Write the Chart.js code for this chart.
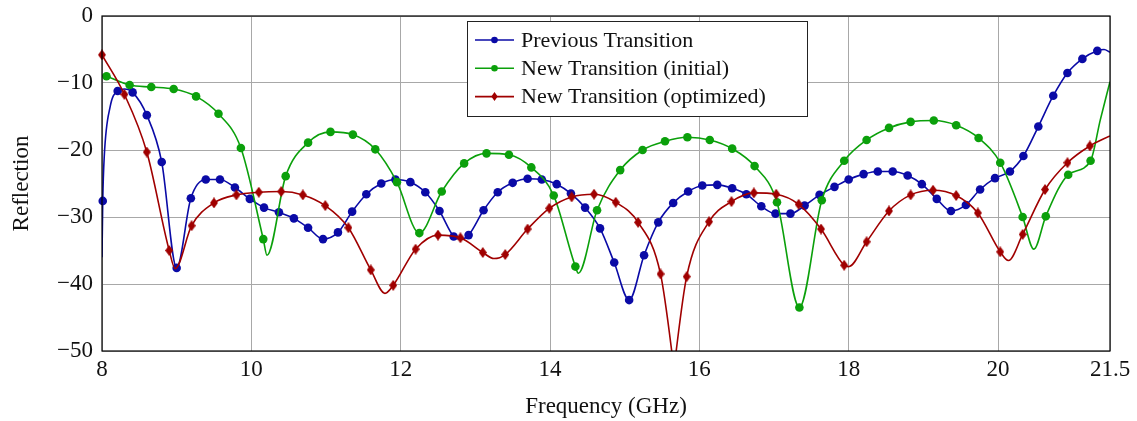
<!DOCTYPE html>
<html>
<head>
<meta charset="utf-8">
<script src="https://cdn.jsdelivr.net/npm/chart.js@4.4.1/dist/chart.umd.min.js"></script>
<style>
  body { margin: 0; background: #fff; }
  canvas { display: block; }
</style>
</head>
<body>
<canvas id="reflChart" width="1137" height="421"></canvas>
<script>
// tick labels
const xTicks = [8, 10, 12, 14, 16, 18, 20, 21.5];

// Previous Transition (marker points)
const prevFreq = [8.01, 8.21, 8.41, 8.60, 8.80, 9.00, 9.19, 9.39, 9.58, 9.78, 9.98, 10.17, 10.37, 10.57, 10.76,
  10.96, 11.16, 11.35, 11.54, 11.74, 11.93, 12.13, 12.33, 12.52, 12.71, 12.91, 13.11, 13.30, 13.50, 13.70,
  13.89, 14.09, 14.28, 14.47, 14.67, 14.86, 15.06, 15.26, 15.45, 15.65, 15.85, 16.04, 16.24, 16.44, 16.63,
  16.83, 17.02, 17.22, 17.41, 17.61, 17.81, 18.00, 18.20, 18.39, 18.59, 18.79, 18.98, 19.18, 19.37, 19.57,
  19.76, 19.96, 20.16, 20.34, 20.54, 20.74, 20.93, 21.13, 21.33];
const prevRefl = [-27.6, -11.2, -11.4, -14.8, -21.8, -37.6, -27.2, -24.4, -24.4, -25.6, -27.3, -28.6, -29.3, -30.2, -31.6,
  -33.3, -32.3, -29.2, -26.6, -25.0, -24.4, -24.8, -26.3, -29.1, -32.9, -32.7, -29.0, -26.3, -24.9, -24.3,
  -24.4, -25.1, -26.5, -28.6, -31.7, -36.8, -42.4, -35.7, -30.8, -27.9, -26.2, -25.3, -25.2, -25.7, -26.6,
  -28.4, -29.5, -29.5, -28.3, -26.7, -25.5, -24.4, -23.6, -23.2, -23.2, -23.8, -25.1, -27.3, -29.1, -28.2,
  -25.9, -24.2, -23.2, -20.9, -16.5, -11.9, -8.5, -6.4, -5.2];
// extra curve points (no marker)
const prevLineFreq = [8.0, 8.03, 8.11, 8.30, 12.81, 21.42, 21.5];
const prevLineRefl = [-36.0, -21.0, -13.5, -10.9, -33.3, -5.0, -5.4];

// New Transition (initial)
const initFreq = [8.06, 8.37, 8.66, 8.96, 9.26, 9.56, 9.86, 10.16, 10.46, 10.76, 11.06, 11.36, 11.66, 11.95, 12.25,
  12.55, 12.85, 13.15, 13.45, 13.75, 14.05, 14.34, 14.63, 14.94, 15.24, 15.54, 15.84, 16.14, 16.44, 16.74,
  17.04, 17.34, 17.64, 17.94, 18.24, 18.54, 18.83, 19.14, 19.44, 19.74, 20.03, 20.33, 20.64, 20.94, 21.24];
const initRefl = [-9.0, -10.3, -10.6, -10.9, -12.0, -14.6, -19.7, -33.3, -23.9, -18.9, -17.3, -17.7, -19.9, -24.8, -32.4,
  -26.2, -22.0, -20.5, -20.7, -22.6, -26.8, -37.4, -29.0, -23.0, -20.0, -18.7, -18.1, -18.5, -19.8, -22.4,
  -27.8, -43.5, -27.5, -21.6, -18.5, -16.7, -15.8, -15.6, -16.3, -18.2, -21.9, -30.0, -29.9, -23.7, -21.6];
const initLineFreq = [8.0, 10.21, 14.38, 20.48, 21.37, 21.5];
const initLineRefl = [-8.8, -35.7, -38.4, -34.8, -15.5, -9.8];

// New Transition (optimized)
const optFreq = [8.0, 8.3, 8.6, 8.9, 9.2, 9.5, 9.8, 10.1, 10.4, 10.69, 10.99, 11.3, 11.6, 11.9, 12.2,
  12.5, 12.8, 13.1, 13.4, 13.7, 13.99, 14.29, 14.59, 14.88, 15.18, 15.48, 15.83, 16.13, 16.43, 16.73,
  17.03, 17.33, 17.63, 17.94, 18.24, 18.54, 18.83, 19.13, 19.44, 19.73, 20.03, 20.33, 20.63, 20.93, 21.23];
const optRefl = [-5.8, -11.7, -20.3, -35.0, -31.3, -27.9, -26.7, -26.3, -26.2, -26.7, -28.3, -31.6, -37.9, -40.2, -34.8,
  -32.7, -33.1, -35.3, -35.6, -31.8, -28.7, -27.0, -26.6, -27.8, -30.8, -38.5, -38.9, -30.7, -27.7, -26.4,
  -26.6, -28.1, -31.8, -37.2, -33.7, -29.1, -26.7, -26.0, -26.8, -29.4, -35.2, -32.6, -25.9, -21.9, -19.4];
const optLineFreq = [8.98, 11.79, 13.25, 15.63, 15.66, 15.69, 18.0, 20.14, 21.5];
const optLineRefl = [-37.7, -41.4, -36.2, -50.0, -53.0, -50.0, -37.4, -36.5, -17.9];

const blueC = "#0a0aa6";
const greenC = "#0ba00b";
const redC = "#a00000";

function pts(fs, rs) {
    return fs.map(function (f, i) { return {x: f, y: rs[i]}; });
}
function curve(fs, rs, efs, ers) {
    return pts(fs, rs).concat(pts(efs, ers)).sort(function (a, b) { return a.x - b.x; });
}

// tall diamond marker
function makeDiamond(color) {
    let c = document.createElement("canvas");
    c.width = 8; c.height = 11;
    let g = c.getContext("2d");
    g.fillStyle = color;
    g.beginPath();
    g.moveTo(4, 0); g.lineTo(8, 5.5); g.lineTo(4, 11); g.lineTo(0, 5.5);
    g.closePath();
    g.fill();
    return c;
}
const diamond = makeDiamond(redC);

function lineSet(label, data, color, order) {
    return {label: label, data: data, borderColor: color, borderWidth: 1.6, pointRadius: 0,
        cubicInterpolationMode: "monotone", fill: false, order: order};
}
function markSet(label, data, color, order, style) {
    return {label: label, data: data, showLine: false, backgroundColor: color, borderColor: color,
        pointRadius: 4.3, pointBorderWidth: 0, pointStyle: style, order: order, clip: 8};
}

const legendItems = [
    {text: "Previous Transition", color: blueC, style: "circle"},
    {text: "New Transition (initial)", color: greenC, style: "circle"},
    {text: "New Transition (optimized)", color: redC, style: "diamond"}
];

const framePlugin = {
    id: "frame",
    afterDatasetsDraw(chart) {
        const ctx = chart.ctx;
        const a = chart.chartArea;
        ctx.save();
        ctx.strokeStyle = "#000";
        ctx.lineWidth = 1.2;
        ctx.strokeRect(a.left, a.top, a.right - a.left, a.bottom - a.top);

        // legend box
        let lx = 467, ly = 21, lw = 340, lh = 95;
        ctx.fillStyle = "#fff";
        ctx.fillRect(lx, ly, lw, lh);
        ctx.lineWidth = 1;
        ctx.strokeStyle = "#222";
        ctx.strokeRect(lx + 0.5, ly + 0.5, lw, lh);
        ctx.font = "22px 'Liberation Serif'";
        ctx.textBaseline = "middle";
        legendItems.forEach(function (it, i) {
            let y = 40 + i * 28.3;
            ctx.strokeStyle = it.color;
            ctx.lineWidth = 1.6;
            ctx.beginPath();
            ctx.moveTo(475, y); ctx.lineTo(514, y);
            ctx.stroke();
            ctx.fillStyle = it.color;
            if (it.style === "circle") {
                ctx.beginPath();
                ctx.arc(494.5, y, 3.3, 0, Math.PI * 2);
                ctx.fill();
            } else {
                ctx.beginPath();
                ctx.moveTo(494.5, y - 4.5); ctx.lineTo(497.7, y); ctx.lineTo(494.5, y + 4.5); ctx.lineTo(491.3, y);
                ctx.closePath();
                ctx.fill();
            }
            ctx.fillStyle = "#111";
            ctx.fillText(it.text, 521, y + 1);
        });
        ctx.restore();
    }
};

Chart.defaults.font.family = "'Liberation Serif', serif";
Chart.defaults.color = "#111";

new Chart("reflChart", {
    type: "line",
    data: {
        datasets: [
            lineSet("Previous Transition", curve(prevFreq, prevRefl, prevLineFreq, prevLineRefl), blueC, 5),
            markSet("Previous Transition", pts(prevFreq, prevRefl), blueC, 4, "circle"),
            lineSet("New Transition (initial)", curve(initFreq, initRefl, initLineFreq, initLineRefl), greenC, 3),
            markSet("New Transition (initial)", pts(initFreq, initRefl), greenC, 2, "circle"),
            lineSet("New Transition (optimized)", curve(optFreq, optRefl, optLineFreq, optLineRefl), redC, 1),
            markSet("New Transition (optimized)", pts(optFreq, optRefl), redC, 0, diamond)
        ]
    },
    options: {
        responsive: false,
        animation: false,
        layout: {padding: {left: 0, top: 16, right: 27, bottom: 0}},
        plugins: {legend: {display: false}, tooltip: {enabled: false}},
        scales: {
            x: {
                type: "linear",
                min: 8,
                max: 21.5,
                afterBuildTicks: function (scale) {
                    scale.ticks = xTicks.map(function (v) { return {value: v}; });
                },
                afterFit: function (scale) {
                    scale.height = 70;
                    scale.paddingLeft = 0;
                    scale.paddingRight = 0;
                },
                grid: {color: "#a8a8a8", lineWidth: 1, drawTicks: false},
                border: {display: false},
                ticks: {
                    font: {size: 23},
                    padding: 5,
                    maxRotation: 0,
                    callback: function (v) { return String(v); }
                },
                title: {display: true, text: "Frequency (GHz)", font: {size: 23, lineHeight: 1.2}, padding: {top: 0, bottom: 0}}
            },
            y: {
                min: -50,
                max: 0,
                afterFit: function (scale) {
                    scale.width = 102;
                    scale.paddingTop = 0;
                    scale.paddingBottom = 0;
                },
                grid: {color: "#a8a8a8", lineWidth: 1, drawTicks: false},
                border: {display: false},
                ticks: {
                    stepSize: 10,
                    font: {size: 23},
                    padding: 9,
                    callback: function (v) { return String(v).replace("-", "\u2212"); }
                },
                title: {display: true, text: "Reflection", font: {size: 23, lineHeight: 1.2}, padding: {top: 8, bottom: 0}}
            }
        }
    },
    plugins: [framePlugin]
});
</script>
</body>
</html>
